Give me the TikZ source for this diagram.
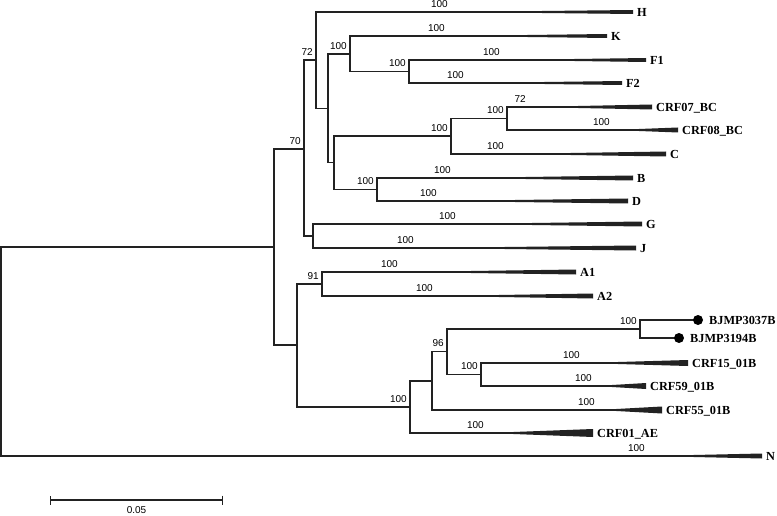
\documentclass[tikz,border=0pt]{standalone}
\usepackage{fontspec}
\setmainfont{Liberation Serif}
\setsansfont{Liberation Sans}
\usetikzlibrary{arrows.meta,calc}

\definecolor{branch}{HTML}{222222}
\tikzset{
  edge/.style={draw=branch,line width=1.2pt},
  boot/.style={font=\sffamily\fontsize{10}{12}\selectfont,inner sep=0pt,anchor=south east,xshift=-3pt,yshift=4.5pt},
  taxon/.style={font=\bfseries\fontsize{12.3}{14}\selectfont,inner sep=0pt,anchor=base west},
  wedge/.style={fill=branch},
  marker/.style={circle,fill=black,minimum size=10pt,inner sep=0pt},
}

\begin{document}
\begin{tikzpicture}[x=1pt,y=-1pt]
  \useasboundingbox (0,0) rectangle (777,516);

  % internal nodes
  \coordinate (root) at (1,351.5);
  \coordinate (nIn) at (274,247);
  \coordinate (nA) at (304,149);
  \coordinate (nB) at (297,345);
  \coordinate (n72) at (316,60);
  \coordinate (nGJ) at (313,236);
  \coordinate (n328) at (328,108.5);
  \coordinate (nKF) at (350,54);
  \coordinate (nF) at (409,71.5);
  \coordinate (nCB) at (334,162.5);
  \coordinate (nBC) at (451,136);
  \coordinate (nBC2) at (507,118.5);
  \coordinate (nBD) at (377,189.5);
  \coordinate (n91) at (322,284);
  \coordinate (nCRF) at (410,407);
  \coordinate (n432) at (432,381);
  \coordinate (n96) at (447,351.5);
  \coordinate (nBJ) at (640,329);
  \coordinate (n481) at (481,374.5);

  \foreach \a/\b in {root/nIn,nIn/nA,nIn/nB,nA/n72,nA/nGJ,n72/n328,n328/nKF,n328/nCB,
    nKF/nF,nCB/nBC,nCB/nBD,nBC/nBC2,nB/n91,nB/nCRF,nCRF/n432,n432/n96,n96/nBJ,n96/n481}
    \draw[edge] (\a) |- (\b);

  \foreach \n/\v in {nA/70,n72/72,nKF/100,nF/100,nBC/100,nBC2/100,nBD/100,
    n91/91,nCRF/100,n96/96,nBJ/100,n481/100}
    \node[boot] (b\n) at (\n) {\v};

  % collapsed subtrees
  \foreach \p/\n/\v/\s/\e/\y/\h/\t in {
    n72/H/100/451/633/12/2/H,
    nKF/K/100/448/607/36/2/K,
    nF/F1/100/503/646/60/2/F1,
    nF/F2/100/467/622/83/2/F2,
    nBC2/BC7/72/529/652/107/2.5/CRF07\_BC,
    nBC2/BC8/100/613/678/130/2.5/CRF08\_BC,
    nBC/C/100/507/666/154/2.5/C,
    nBD/B/100/454/633/178/2.5/B,
    nBD/D/100/440/628/201/2.5/D,
    nGJ/G/100/459/642/224/2.5/G,
    nGJ/J/100/417/636/248/2.5/J,
    n91/A1/100/401/576/272/2.5/A1,
    n91/A2/100/436/593/296/2.5/A2,
    n481/B15/100/583/688/363/3/CRF15\_01B,
    n481/B59/100/595/646/386/3/CRF59\_01B,
    n432/B55/100/598/662/410/3.5/CRF55\_01B,
    nCRF/AE1/100/487/593/433/4/CRF01\_AE,
    root/N/100/648/762/456/2.5/N}
  {
    \coordinate (s\n) at (\s,\y);
    \coordinate (e\n) at (\e,\y);
    \draw[edge] (\p) |- (e\n);
    \fill[wedge] (s\n) -- ([yshift=\h*1pt]e\n) -- ([yshift=-\h*1pt]e\n) -- cycle;
    \node[boot] (b\n) at (s\n) {\v};
    \node[taxon] (t\n) at ([xshift=4pt,yshift=-4.2pt]e\n) {\t};
  }

  % study sequences
  \coordinate (eBJ1) at (698,320);
  \coordinate (eBJ2) at (679,338);
  \draw[edge] (nBJ) |- (eBJ1);
  \draw[edge] (nBJ) |- (eBJ2);
  \node[marker] (dBJ1) at (eBJ1) {};
  \node[marker] (dBJ2) at (eBJ2) {};
  \node[taxon] (tBJ1) at ([xshift=11pt,yshift=-4.2pt]eBJ1) {BJMP3037B};
  \node[taxon] (tBJ2) at ([xshift=11pt,yshift=-4.2pt]eBJ2) {BJMP3194B};

  % scale bar
  \coordinate (sbL) at (50,500);
  \coordinate (sbR) at (223,500);
  \draw[edge,{Bar[width=9pt]}-{Bar[width=9pt]}] (sbL) -- (sbR);
  \node[font=\sffamily\fontsize{10}{12}\selectfont,anchor=north,inner sep=0pt] (sbT)
    at ($(sbL)!0.5!(sbR)+(0,6)$) {0.05};
\end{tikzpicture}
\end{document}
